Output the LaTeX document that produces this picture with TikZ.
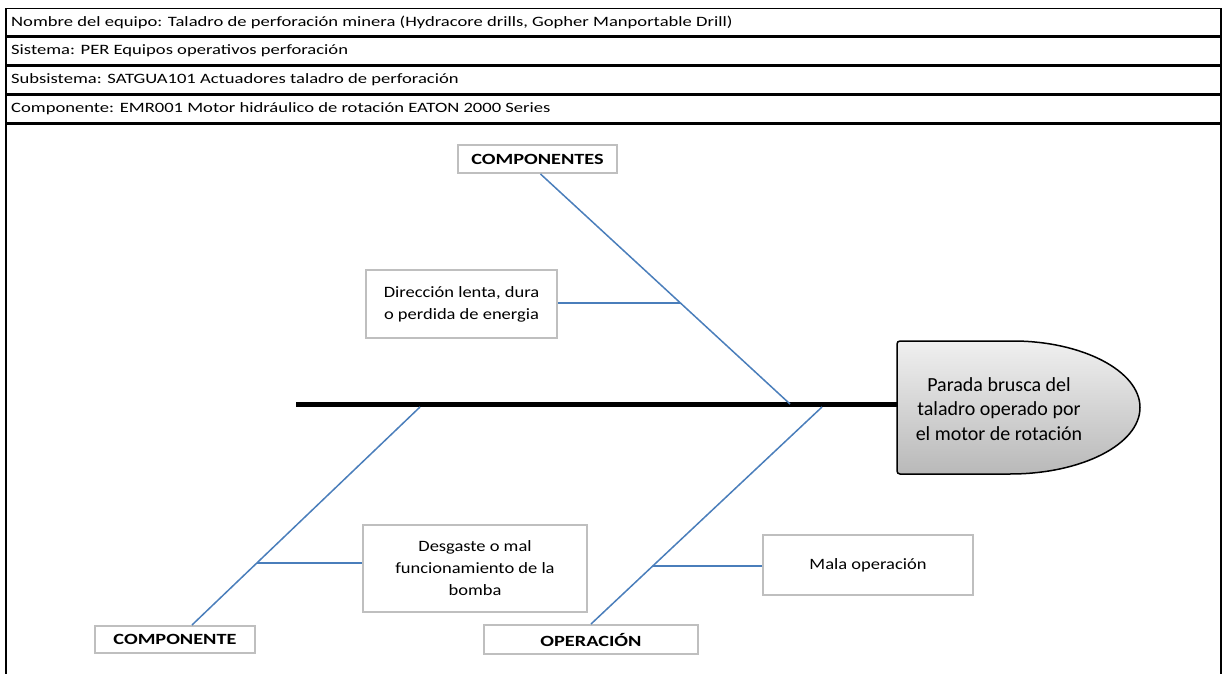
\documentclass[tikz,border=0pt]{standalone}
\usepackage{fontspec}
\setmainfont{Carlito}
\newfontfamily\hdrfont[FakeStretch=1.3]{Carlito}
\newfontfamily\catfont[FakeStretch=1.3]{Carlito}
\newfontfamily\causefont[FakeStretch=1.17]{Carlito}
\definecolor{bone}{HTML}{4A7EBB}
\definecolor{boxline}{HTML}{BFBFBF}
\begin{document}
\begin{tikzpicture}[x=1pt,y=-1pt,
  hdr/.style={anchor=west,inner sep=0pt,font=\hdrfont\fontsize{14.3}{17}\selectfont},
  catbox/.style={draw=boxline,line width=2pt,fill=white,inner sep=0pt,align=center,font=\catfont\fontsize{15.6}{20}\selectfont\bfseries},
  causebox/.style={draw=boxline,line width=2pt,fill=white,inner sep=0pt,align=center,font=\causefont\fontsize{15.8}{22}\selectfont},
  bonel/.style={draw=bone,line width=1.5pt},
  twig/.style={draw=bone,line width=2pt}]
\useasboundingbox (0,0) rectangle (1227,674);
% header frame
\draw[line width=1.5pt] (6,674) -- (6,8.5) -- (1221,8.5) -- (1221,674);
\foreach \yy in {36.5,65.5,94.5,123.5}
  \draw[line width=2.5pt] (6,\yy) -- (1221,\yy);
\node[hdr] (h1) at (11,22.5) {Nombre del equipo: Taladro de perforación minera (Hydracore drills, Gopher Manportable Drill)};
\node[hdr] (h2) at (11,51) {Sistema: PER Equipos operativos perforación};
\node[hdr] (h3) at (11,80) {Subsistema: SATGUA101 Actuadores taladro de perforación};
\node[hdr] (h4) at (11,109) {Componente: EMR001 Motor hidráulico de rotación EATON 2000 Series};
% head
\shade[top color=gray!12,bottom color=gray!55,draw=black,line width=1.5pt,rounded corners=3pt]
  (897,341) -- (1010,341) [sharp corners] arc[start angle=-90,end angle=90,x radius=130,y radius=66.5]
  [rounded corners=3pt] -- (897,474) -- cycle;
\node[inner sep=0pt,align=center,font=\fontsize{20}{24.5}\selectfont] (head) at (999,409)
  {Parada brusca del\\taladro operado por\\el motor de rotación};
\coordinate (headW) at (897,404);
\coordinate (spL) at (296,404);
\draw[line width=5pt] (spL) -- (headW);
% category boxes
\node[catbox,minimum width=159pt,minimum height=28pt] (cTop) at (537.5,159) {COMPONENTES};
\node[catbox,minimum width=160pt,minimum height=27pt] (cLL) at (175,639.5) {COMPONENTE};
\node[catbox,minimum width=214pt,minimum height=29pt] (cLR) at (591,639.5) {OPERACIÓN};
% cause boxes
\node[causebox,minimum width=191pt,minimum height=68pt] (b1) at (461.5,304) {Dirección lenta, dura\\o perdida de energia};
\node[causebox,minimum width=224pt,minimum height=87pt] (b2) at (475,568.5) {Desgaste o mal\\funcionamiento de la\\bomba};
\node[causebox,minimum width=210pt,minimum height=60pt] (b3) at (868,565) {Mala operación};
% bones
\coordinate (j1) at (790,404);
\coordinate (j2) at (420,407);
\coordinate (j3) at (822,407);
\coordinate (t1) at (680,303);
\coordinate (t2) at (257,563);
\coordinate (t3) at (653,566);
\draw[bonel] ([xshift=3pt]cTop.south) -- (j1);
\draw[bonel] ([xshift=17pt]cLL.north) -- (j2);
\draw[bonel] (cLR.north) -- (j3);
\draw[twig] (b1.east |- t1) -- (t1);
\draw[twig] (b2.west |- t2) -- (t2);
\draw[twig] (b3.west |- t3) -- (t3);
\end{tikzpicture}
\end{document}
